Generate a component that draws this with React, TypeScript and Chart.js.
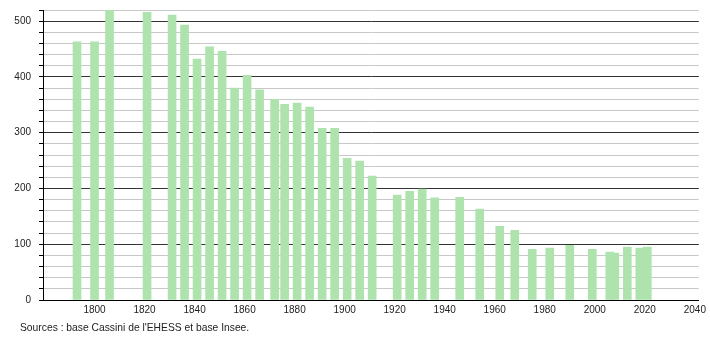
import React, { useEffect, useRef } from "react";
import { Chart, registerables } from "chart.js";

Chart.register(...registerables);

const years = [
  1793, 1800, 1806, 1821, 1831, 1836, 1841, 1846, 1851, 1856, 1861, 1866, 1872,
  1876, 1881, 1886, 1891, 1896, 1901, 1906, 1911, 1921, 1926, 1931, 1936, 1946,
  1954, 1962, 1968, 1975, 1982, 1990, 1999, 2006, 2008, 2013, 2018, 2021,
];
const population = [
  463, 463, 522, 516, 511, 493, 432, 454, 446, 380, 403, 377, 360,
  351, 353, 346, 308, 308, 254, 249, 222, 188, 195, 199, 183, 184,
  163, 132, 125, 91, 93, 98, 91, 86, 84, 95, 93, 95,
];
const xTickLabels = [1800, 1820, 1840, 1860, 1880, 1900, 1920, 1940, 1960, 1980, 2000, 2020, 2040];
const sourceText = "Sources : base Cassini de l'EHESS et base Insee.";

export default function App() {
  const canvasRef = useRef<HTMLCanvasElement | null>(null);

  useEffect(() => {
    if (!canvasRef.current) return;
    const chart = new Chart(canvasRef.current, {
      type: "bar",
      data: {
        datasets: [
          {
            data: years.map((y, i) => ({ x: y, y: population[i] })),
            backgroundColor: "rgb(174,227,174)",
            borderWidth: 0,
            barThickness: 8,
          },
        ],
      },
      options: {
        responsive: false,
        animation: false,
        layout: { padding: { left: 0, top: 10, right: 9, bottom: 0 } },
        plugins: { legend: { display: false }, tooltip: { enabled: false } },
        scales: {
          x: {
            type: "linear",
            min: 1779.4,
            max: 2041.6,
            offset: false,
            afterBuildTicks: (scale: any) => {
              scale.ticks = xTickLabels.map((v) => ({ value: v }));
            },
            afterFit: (scale: any) => {
              scale.height = 40;
            },
            grid: { display: false, drawTicks: false },
            border: { display: true, color: "#000", width: 1 },
            ticks: {
              padding: 4,
              color: "#222",
              maxRotation: 0,
              autoSkip: false,
              font: { family: "Liberation Sans", size: 10 },
              callback: (v: any) => String(v),
            },
          },
          y: {
            min: 0,
            max: 520,
            afterBuildTicks: (scale: any) => {
              const t = [];
              for (let v = 0; v <= 520; v += 20) t.push({ value: v });
              scale.ticks = t;
            },
            afterFit: (scale: any) => {
              scale.width = 43;
              scale.paddingTop = 0;
              scale.paddingBottom = 0;
            },
            ticks: {
              stepSize: 20,
              autoSkip: false,
              maxTicksLimit: 100,
              padding: 8,
              color: "#222",
              font: { family: "Liberation Sans", size: 10 },
              callback: (v: any) => (Number(v) % 100 === 0 ? String(v) : ""),
            },
            grid: {
              color: (ctx: any) =>
                ctx.tick && ctx.tick.value % 100 === 0 ? "#333" : "#c8c8c8",
              tickColor: "#000",
              tickLength: 4,
              lineWidth: 1,
            },
            border: { display: true, color: "#000", width: 1 },
          },
        },
      },
    });
    return () => chart.destroy();
  }, []);

  return (
    <div
      style={{
        position: "fixed",
        left: 0,
        top: 0,
        width: 710,
        height: 340,
        background: "#fff",
      }}
    >
      <canvas ref={canvasRef} width={710} height={340} style={{ width: 710, height: 340, display: "block" }} />
      <div
        style={{
          position: "absolute",
          left: 20,
          top: 322,
          fontFamily: "Liberation Sans, Arial, sans-serif",
          fontSize: 10.3,
          color: "#222",
          whiteSpace: "nowrap",
        }}
      >
        {sourceText}
      </div>
    </div>
  );
}
